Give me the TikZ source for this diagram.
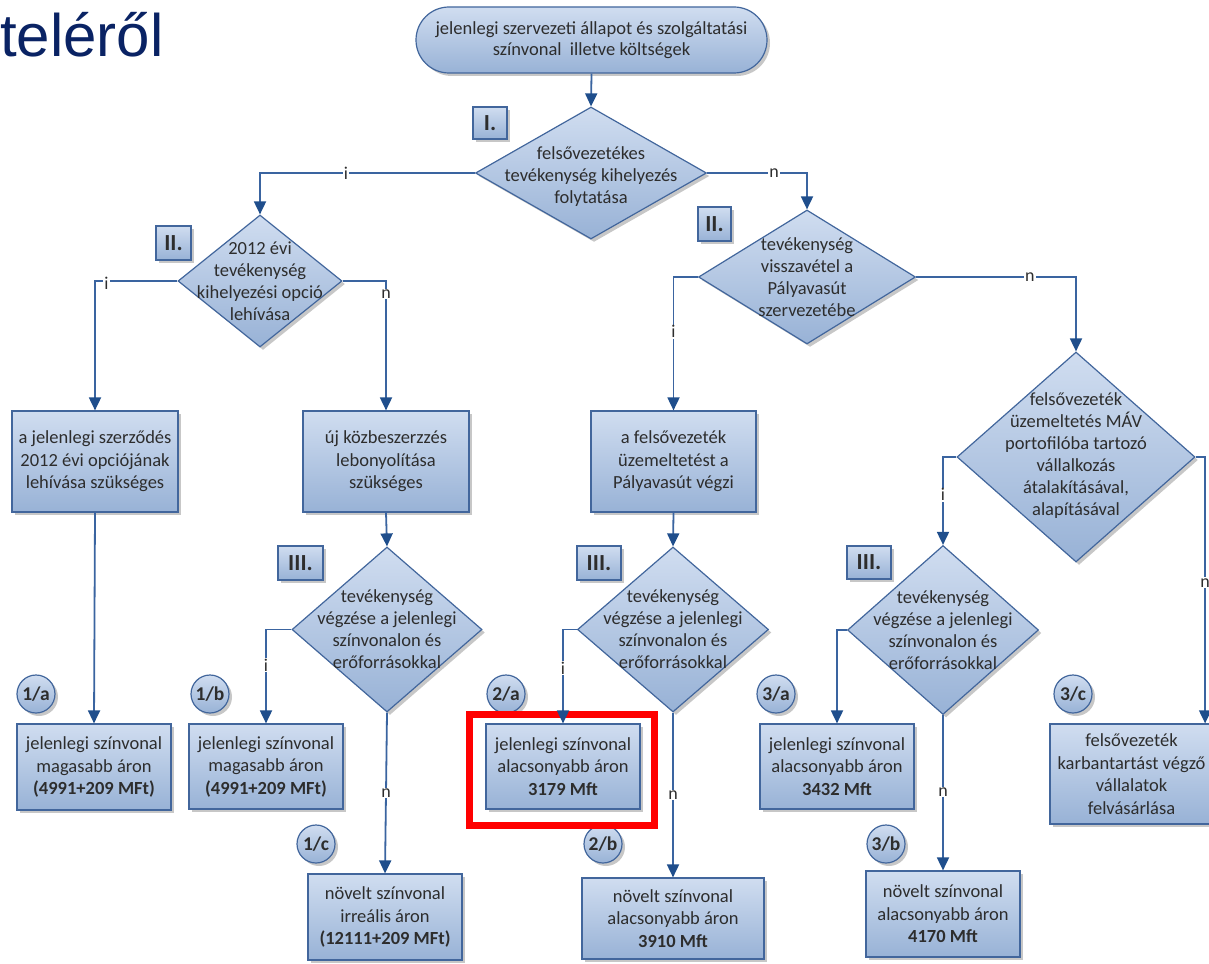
\documentclass[tikz,border=0pt]{standalone}
\usepackage{fontspec}
\setmainfont{Carlito}
\newfontfamily\titlefont{Liberation Sans}
\usetikzlibrary{shapes.geometric,shapes.misc,arrows.meta,shadows}
\definecolor{ftop}{RGB}{208,221,240}
\definecolor{fbot}{RGB}{152,178,214}
\definecolor{bdr}{RGB}{66,102,156}
\definecolor{lc}{RGB}{58,100,160}
\definecolor{ac}{RGB}{31,78,140}
\definecolor{txt}{RGB}{45,45,45}
\definecolor{titlec}{RGB}{10,35,100}
\tikzset{
  base/.style={draw=bdr, line width=1.2pt, top color=ftop, bottom color=fbot,
    drop shadow={shadow xshift=3pt, shadow yshift=-3pt, fill=black, opacity=0.22},
    font=\fontsize{18.5}{22.5}\selectfont, text=txt, align=center},
  box/.style={base, rectangle, inner sep=0pt},
  dia/.style={base, diamond, inner sep=0pt},
  dtext/.style={font=\fontsize{18.5}{22}\selectfont, text=txt, align=center, inner sep=0pt},
  term/.style={base, rounded rectangle, inner sep=0pt},
  tag/.style={base, rectangle, inner sep=0pt, minimum height=33, font=\fontsize{23}{24}\selectfont\bfseries},
  num/.style={base, circle, inner sep=0pt, minimum size=38, font=\fontsize{19.5}{20}\selectfont\bfseries},
  conn/.style={draw=lc, line width=1.8pt},
  arr/.style={conn, -{Triangle[width=12pt,length=13pt,color=ac]}},
  lab/.style={fill=white, inner sep=1pt, font=\fontsize{18}{20}\selectfont, text=txt},
  hl/.style={draw=red, line width=7pt, rectangle, inner sep=0pt}
}
\begin{document}
\begin{tikzpicture}[x=1pt,y=-1pt]
\useasboundingbox (0,0) rectangle (1209,963);
\clip (0,0) rectangle (1209,963);
% title
\node[anchor=base west, inner sep=0pt, font=\fontsize{60}{60}\selectfont\titlefont, text=titlec] (title) at (0,57) {teléről};
% top terminal
\node[term, minimum width=351, minimum height=66] (top) at (591.5,40)
  {jelenlegi szervezeti állapot és szolgáltatási\\[-1pt]színvonal\ \ illetve költségek};
% diamonds
\node[dia, minimum width=231, minimum height=132,
  label={[dtext, yshift=-4pt]center:felsővezetékes\\tevékenység kihelyezés\\folytatása}] (D1) at (591,173) {};
\node[dia, minimum width=164, minimum height=132,
  label={[dtext]center:2012 évi\\tevékenység\\kihelyezési opció\\lehívása}] (D2L) at (260,281) {};
\node[dia, minimum width=217, minimum height=134,
  label={[dtext]center:tevékenység\\visszavétel a\\Pályavasút\\szervezetébe}] (D2R) at (807,277) {};
\node[dia, minimum width=238, minimum height=210,
  label={[dtext,yshift=1pt]center:felsővezeték\\üzemeltetés MÁV\\portofilóba tartozó\\vállalkozás\\átalakításával,\\alapításával}] (DMAV) at (1076,457) {};
\node[dia, minimum width=190, minimum height=165,
  label={[dtext]center:tevékenység\\végzése a jelenlegi\\színvonalon és\\erőforrásokkal}] (D3a) at (387,629.5) {};
\node[dia, minimum width=191, minimum height=165,
  label={[dtext]center:tevékenység\\végzése a jelenlegi\\színvonalon és\\erőforrásokkal}] (D3b) at (673,629.5) {};
\node[dia, minimum width=191, minimum height=169,
  label={[dtext]center:tevékenység\\végzése a jelenlegi\\színvonalon és\\erőforrásokkal}] (D3c) at (943,630) {};
% boxes
\node[box, minimum width=166, minimum height=101] (B1top) at (95,461.5)
  {a jelenlegi szerződés\\2012 évi opciójának\\lehívása szükséges};
\node[box, minimum width=166, minimum height=101] (B2top) at (386,461.5)
  {új közbeszerzzés\\lebonyolítása\\szükséges};
\node[box, minimum width=165, minimum height=101] (Bfel) at (673.5,461.5)
  {a felsővezeték\\üzemeltetést a\\Pályavasút végzi};
\node[box, minimum width=154, minimum height=86] (B1a) at (94,767)
  {jelenlegi színvonal\\magasabb áron\\\textbf{(4991+209 MFt)}};
\node[box, minimum width=154, minimum height=85] (B1b) at (266,766.5)
  {jelenlegi színvonal\\magasabb áron\\\textbf{(4991+209 MFt)}};
\node[box, minimum width=154, minimum height=86] (B1c) at (385,917)
  {növelt színvonal\\irreális áron\\\textbf{(12111+209 MFt)}};
\node[box, minimum width=154, minimum height=85] (B2a) at (563,766.5)
  {jelenlegi színvonal\\alacsonyabb áron\\\textbf{3179 Mft}};
\node[box, minimum width=182, minimum height=81] (B2b) at (673,918.5)
  {növelt színvonal\\alacsonyabb áron\\\textbf{3910 Mft}};
\node[box, minimum width=154, minimum height=85] (B3a) at (837,766.5)
  {jelenlegi színvonal\\alacsonyabb áron\\\textbf{3432 Mft}};
\node[box, minimum width=154, minimum height=86] (B3b) at (943,914)
  {növelt színvonal\\alacsonyabb áron\\\textbf{4170 Mft}};
\node[box, minimum width=163, minimum height=100] (B3c) at (1131.5,774)
  {felsővezeték\\karbantartást végző\\vállalatok\\felvásárlása};
% tags
\node[tag, minimum width=34, minimum height=32] (T1) at (490,123) {I.};
\node[tag, minimum width=35, minimum height=34] (T2L) at (173.5,243) {II.};
\node[tag, minimum width=33, minimum height=34] (T2R) at (714.5,224) {II.};
\node[tag, minimum width=45, minimum height=34] (T3a) at (300.5,563) {III.};
\node[tag, minimum width=44, minimum height=34] (T3b) at (599,563) {III.};
\node[tag, minimum width=44, minimum height=33] (T3c) at (869,562.5) {III.};
% numbered circles
\node[num] (C1a) at (36,694) {1/a};
\node[num] (C1b) at (210,694) {1/b};
\node[num] (C1c) at (316,844) {1/c};
\node[num] (C2a) at (506,694) {2/a};
\node[num] (C2b) at (603,844) {2/b};
\node[num] (C3a) at (776,694) {3/a};
\node[num] (C3b) at (886,844) {3/b};
\node[num] (C3c) at (1073,694) {3/c};
% highlight
\node[hl, minimum width=185, minimum height=111] (hl) at (561.5,769.5) {};
% connectors
\draw[arr] (top.south) -- (D1.north);
\draw[arr] (D1.west) -| node[lab, pos=0.30] {i} (D2L.north);
\draw[arr] (D1.east) -| node[lab, pos=0.335] {n} (D2R.north);
\draw[arr] (D2L.west) -| node[lab, pos=0.43, yshift=-2pt] {i} (B1top.north);
\draw[arr] (D2L.east) -| node[lab, pos=0.55] {n} (B2top.north);
\draw[arr] (B1top.south) -- (B1a.north);
\draw[arr] (B2top.south) -- (D3a.north);
\draw[arr] (D3a.west) -| node[lab, pos=0.69] {i} (B1b.north);
\draw[arr] (D3a.south) -- node[lab, pos=0.5] {n} (B1c.north);
\draw[arr] (D2R.west) -| node[lab, pos=0.705] {i} (Bfel.north);
\draw[arr] (D2R.east) -| node[lab, pos=0.356] {n} (DMAV.north);
\draw[arr] (Bfel.south) -- (D3b.north);
\draw[arr] (D3b.west) -| node[lab, pos=0.705] {i} (B2a.north);
\draw[arr] (D3b.south) -- node[lab, pos=0.5] {n} (B2b.north);
\draw[arr] (DMAV.west) -| node[lab, pos=0.715] {i} (D3c.north);
\coordinate (B3cin) at ([xshift=-8.5pt]B3c.north east);
\draw[arr] (DMAV.east) -| node[lab, pos=0.736] {n} (B3cin);
\draw[arr] (D3c.west) -| (B3a.north);
\draw[arr] (D3c.south) -- node[lab, pos=0.495] {n} (B3b.north);
\end{tikzpicture}
\end{document}
